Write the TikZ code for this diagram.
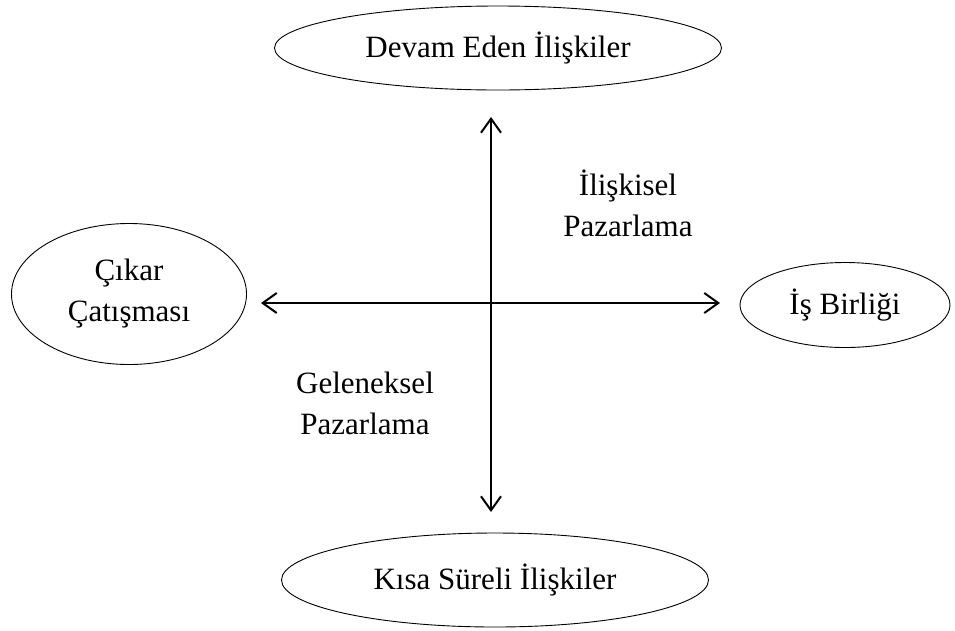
\documentclass[tikz,border=0pt]{standalone}
\usepackage{fontspec}
\setmainfont{Liberation Serif}
\usetikzlibrary{shapes.geometric,arrows.meta}
\begin{document}
\begin{tikzpicture}[x=1pt,y=-1pt,
  ell/.style={draw,ellipse,line width=0.9pt,inner sep=0pt,align=center,font=\fontsize{31}{41}\selectfont},
  lbl/.style={align=center,font=\fontsize{31}{41}\selectfont},
  axis/.style={line width=2pt,{Straight Barb[length=14pt,width=20pt,line width=2pt]}-{Straight Barb[length=14pt,width=20pt,line width=2pt]}}]
\path[use as bounding box,fill=white] (0,0) rectangle (955,630);
\node[ell,minimum width=447pt,minimum height=84pt] (devam) at (498,48) {Devam Eden İlişkiler};
\node[ell,minimum width=427pt,minimum height=94pt] (kisa) at (495,580) {Kısa Süreli İlişkiler};
\node[ell,minimum width=235pt,minimum height=141pt] (cikar) at (129,294) {Çıkar\\Çatışması};
\node[ell,minimum width=210pt,minimum height=85pt] (is) at (845,305) {İş Birliği};
\coordinate (vt) at (491,117);
\coordinate (vb) at (491,512);
\coordinate (hl) at (261,303);
\coordinate (hr) at (720,303);
\draw[axis] (vb) -- (vt);
\draw[axis] (hl) -- (hr);
\node[lbl] (ilis) at (628,203) {İlişkisel\\Pazarlama};
\node[lbl] (gel) at (365,403) {Geleneksel\\Pazarlama};
\end{tikzpicture}
\end{document}
